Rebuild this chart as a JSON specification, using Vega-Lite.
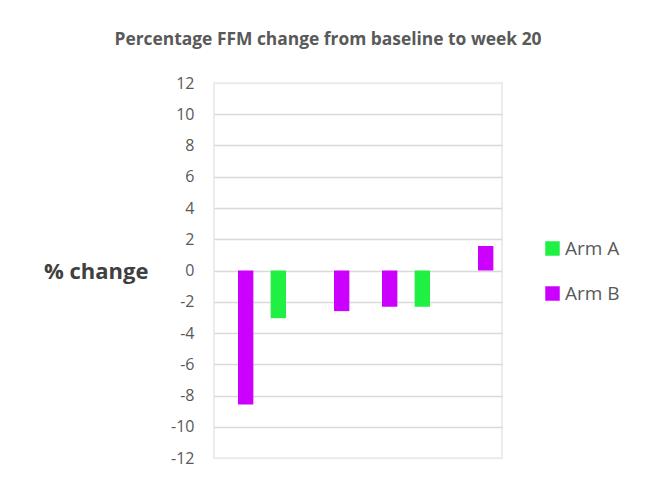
{
  "$schema": "https://vega.github.io/schema/vega-lite/v6.json",
  "width": 288,
  "height": 375,
  "autosize": {"type": "none"},
  "padding": {"left": 214, "top": 83, "right": 146, "bottom": 27},
  "background": "white",
  "title": {
    "text": "Percentage FFM change from baseline to week 20",
    "font": "Open Sans",
    "fontSize": 17.4,
    "fontWeight": "bold",
    "color": "#595959",
    "anchor": "middle",
    "frame": "group",
    "dx": -30,
    "offset": 27
  },
  "data": {
    "values": [
      {"participant": "1", "arm": "Arm B", "change": -8.57},
      {"participant": "2", "arm": "Arm A", "change": -3.05},
      {"participant": "3", "arm": "Arm B", "change": -2.6},
      {"participant": "4", "arm": "Arm B", "change": -2.32},
      {"participant": "5", "arm": "Arm A", "change": -2.32},
      {"participant": "6", "arm": "Arm B", "change": 1.57}
    ]
  },
  "mark": {"type": "bar"},
  "encoding": {
    "x": {
      "field": "participant",
      "type": "nominal",
      "scale": {"paddingInner": 0.36, "paddingOuter": 0.18},
      "axis": null
    },
    "xOffset": {
      "field": "arm",
      "type": "nominal",
      "scale": {"domain": ["Arm A", "Arm B"], "paddingInner": 0, "paddingOuter": 0}
    },
    "y": {
      "field": "change",
      "type": "quantitative",
      "scale": {"domain": [-12, 12], "nice": false},
      "axis": {
        "values": [-12, -10, -8, -6, -4, -2, 0, 2, 4, 6, 8, 10, 12],
        "labelExpr": "datum.value < 0 ? '-' + abs(datum.value) : '' + datum.value",
        "title": "% change",
        "titleAngle": 0,
        "titleAlign": "right",
        "titleBaseline": "middle",
        "titleX": -66,
        "titleY": 188,
        "titleFont": "Open Sans",
        "titleFontSize": 22,
        "titleFontWeight": "bold",
        "titleColor": "#404040",
        "labelFont": "Open Sans",
        "labelFontSize": 16,
        "labelColor": "#595959",
        "labelPadding": 20,
        "ticks": false,
        "domain": false,
        "grid": true,
        "gridColor": {"condition": {"test": "abs(datum.value) == 12", "value": "#ececec"}, "value": "#d9d9d9"},
        "gridWidth": 1.3
      }
    },
    "color": {
      "field": "arm",
      "type": "nominal",
      "scale": {"domain": ["Arm A", "Arm B"], "range": ["#1ff043", "#cc00ff"]},
      "legend": {
        "title": null,
        "orient": "none",
        "legendX": 329,
        "legendY": 156,
        "symbolType": "square",
        "symbolSize": 210,
        "symbolStrokeWidth": 0,
        "symbolOpacity": 1,
        "labelFont": "Open Sans",
        "labelFontSize": 19,
        "labelColor": "#595959",
        "labelOffset": 3,
        "rowPadding": 25,
        "padding": 0
      }
    }
  },
  "config": {
    "view": {"stroke": "#ececec", "strokeWidth": 2}
  }
}
